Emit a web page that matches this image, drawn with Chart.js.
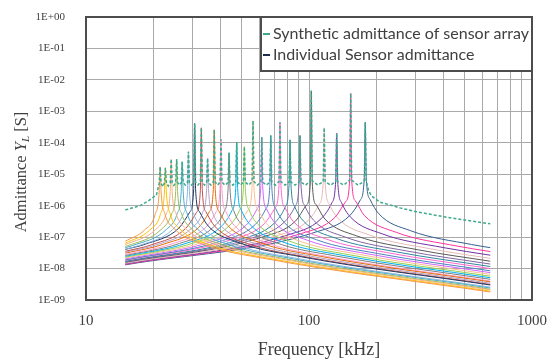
<!DOCTYPE html>
<html>
<head>
<meta charset="utf-8">
<script src="https://cdn.jsdelivr.net/npm/chart.js@4.4.1/dist/chart.umd.min.js"></script>
<style>
  html, body { margin: 0; padding: 0; background: #ffffff; }
  #wrap { width: 549px; height: 359px; position: relative; }
</style>
</head>
<body>
<div id="wrap"><canvas id="chart" width="549" height="359"></canvas></div>
<script>
// ---- Axis ticks ----
const freqTicksKHz = [10, 20, 30, 40, 50, 60, 70, 80, 90, 100, 200, 300, 400, 500, 600, 700, 800, 900, 1000];
const freqLabelsKHz = [10, 100, 1000];
const admittanceTicksS = [1e-9, 1e-8, 1e-7, 1e-6, 1e-5, 1e-4, 1e-3, 1e-2, 1e-1, 1];

// ---- Individual sensors ----
// Resonance frequency of each sensor [kHz]
const resonanceKHz = [21.5, 22.7, 24.1, 25.5, 27.0, 28.8, 30.7, 32.9, 35.1, 37.6, 40.3, 43.8, 47.4,
                      51.3, 56.1, 61.4, 67.4, 74.1, 82.2, 91.1, 102.4, 117.0, 133.1, 153.8, 178.8];
// Admittance at resonance [S]
const peakS = [1.7e-5, 1.6e-5, 3.0e-5, 3.0e-5, 2.5e-5, 5.2e-5, 4.1e-4, 3.0e-4, 3.2e-5, 2.6e-4, 1.3e-4, 4.8e-5, 1.05e-4,
               7.5e-5, 5.0e-4, 1.5e-4, 1.7e-4, 4.5e-4, 1.25e-4, 1.7e-4, 4.5e-3, 3.0e-4, 2.0e-4, 3.7e-3, 4.5e-4];
// Sweep limits [kHz]
const sweepStartKHz = 15;
const sweepEndKHz = 650;
// Admittance at the sweep limits [S]
const startS = [7.41e-8, 6.39e-8, 5.71e-8, 5.05e-8, 4.63e-8, 4.12e-8, 4.07e-8, 3.54e-8, 3.30e-8, 3.09e-8, 2.79e-8, 2.61e-8, 2.45e-8,
                2.30e-8, 2.15e-8, 2.02e-8, 1.89e-8, 1.83e-8, 1.71e-8, 1.65e-8, 1.58e-8, 1.47e-8, 1.42e-8, 1.36e-8, 1.31e-8];
const endS = [1.80e-9, 1.91e-9, 2.09e-9, 2.20e-9, 2.40e-9, 2.56e-9, 3.00e-9, 3.12e-9, 3.42e-9, 3.78e-9, 4.01e-9, 4.55e-9, 5.10e-9,
              5.71e-9, 6.51e-9, 7.41e-9, 8.48e-9, 9.98e-9, 1.16e-8, 1.39e-8, 1.71e-8, 2.10e-8, 2.66e-8, 3.47e-8, 4.61e-8];
// Frequency ratios f / f_r where each sensor curve is sampled
const detuning = [0.6, 0.85, 0.95, 0.99, 1.01, 1.05, 1.15, 1.6, 3];
// Admittance of each sensor at those ratios [S] (null: below the sweep)
const at060 = [null, null, null, 5.26e-8, 5.40e-8, 5.40e-8, 5.95e-8, 5.76e-8, 5.92e-8, 6.11e-8, 6.05e-8, 6.30e-8, 6.52e-8,
               6.73e-8, 7.01e-8, 7.29e-8, 7.58e-8, 8.11e-8, 8.48e-8, 9.11e-8, 9.92e-8, 1.06e-7, 1.16e-7, 1.30e-7, 1.45e-7];
const at085 = [1.67e-7, 1.67e-7, 1.72e-7, 1.72e-7, 1.76e-7, 1.76e-7, 1.94e-7, 1.88e-7, 1.94e-7, 2.00e-7, 1.98e-7, 2.06e-7, 2.13e-7,
               2.20e-7, 2.29e-7, 2.38e-7, 2.48e-7, 2.65e-7, 2.77e-7, 2.98e-7, 3.24e-7, 3.46e-7, 3.80e-7, 4.24e-7, 4.75e-7];
const at095 = [5.31e-7, 5.31e-7, 5.48e-7, 5.47e-7, 5.61e-7, 5.61e-7, 6.18e-7, 5.98e-7, 6.16e-7, 6.35e-7, 6.28e-7, 6.54e-7, 6.77e-7,
               7.00e-7, 7.29e-7, 7.58e-7, 7.88e-7, 8.42e-7, 8.81e-7, 9.47e-7, 1.03e-6, 1.10e-6, 1.21e-6, 1.35e-6, 1.51e-6];
const at099 = [2.71e-6, 2.71e-6, 2.80e-6, 2.79e-6, 2.87e-6, 2.87e-6, 3.16e-6, 3.06e-6, 3.14e-6, 3.24e-6, 3.21e-6, 3.34e-6, 3.46e-6,
               3.57e-6, 3.72e-6, 3.87e-6, 4.02e-6, 4.30e-6, 4.50e-6, 4.83e-6, 5.26e-6, 5.63e-6, 6.18e-6, 6.89e-6, 7.71e-6];
const at101 = [2.74e-6, 2.74e-6, 2.83e-6, 2.82e-6, 2.89e-6, 2.89e-6, 3.19e-6, 3.09e-6, 3.18e-6, 3.28e-6, 3.24e-6, 3.38e-6, 3.49e-6,
               3.61e-6, 3.76e-6, 3.91e-6, 4.06e-6, 4.34e-6, 4.54e-6, 4.88e-6, 5.32e-6, 5.68e-6, 6.24e-6, 6.96e-6, 7.79e-6];
const at105 = [5.58e-7, 5.58e-7, 5.76e-7, 5.75e-7, 5.90e-7, 5.90e-7, 6.50e-7, 6.29e-7, 6.47e-7, 6.67e-7, 6.60e-7, 6.88e-7, 7.12e-7,
               7.35e-7, 7.66e-7, 7.96e-7, 8.28e-7, 8.85e-7, 9.26e-7, 9.95e-7, 1.08e-6, 1.16e-6, 1.27e-6, 1.42e-6, 1.59e-6];
const at115 = [1.94e-7, 1.94e-7, 2.01e-7, 2.00e-7, 2.05e-7, 2.05e-7, 2.26e-7, 2.19e-7, 2.25e-7, 2.32e-7, 2.30e-7, 2.40e-7, 2.48e-7,
               2.56e-7, 2.67e-7, 2.77e-7, 2.88e-7, 3.08e-7, 3.22e-7, 3.47e-7, 3.77e-7, 4.03e-7, 4.43e-7, 4.94e-7, 5.53e-7];
const at160 = [5.59e-8, 5.59e-8, 5.77e-8, 5.76e-8, 5.91e-8, 5.91e-8, 6.51e-8, 6.30e-8, 6.48e-8, 6.69e-8, 6.62e-8, 6.89e-8, 7.13e-8,
               7.37e-8, 7.67e-8, 7.98e-8, 8.30e-8, 8.87e-8, 9.28e-8, 9.97e-8, 1.09e-7, 1.16e-7, 1.27e-7, 1.42e-7, 1.59e-7];
const at300 = [2.04e-8, 2.04e-8, 2.11e-8, 2.10e-8, 2.16e-8, 2.16e-8, 2.38e-8, 2.30e-8, 2.37e-8, 2.44e-8, 2.42e-8, 2.52e-8, 2.61e-8,
               2.69e-8, 2.81e-8, 2.92e-8, 3.03e-8, 3.24e-8, 3.39e-8, 3.64e-8, 3.97e-8, 4.24e-8, 4.66e-8, 5.19e-8, 5.81e-8];
const detunedS = [at060, at085, at095, at099, at101, at105, at115, at160, at300];

const sensorColors = ['#F79646', '#FFC000', '#F4B183', '#9BBB59', '#4BACC6', '#8EB4E3', '#1F3864', '#C0504D', '#B3A2C7',
                      '#E46C0A', '#FF99CC', '#7F7F7F', '#00B0F0', '#92D050', '#FABF8F', '#CC66FF', '#4F81BD', '#FF66CC',
                      '#31859C', '#8064A2', '#595959', '#E6B9B8', '#7030A0', '#FF3399', '#366092'];

// ---- Synthetic admittance of the array ----
const leadKHz = [15, 17.5, 19, 20.7];
const leadS = [7.3e-7, 1.0e-6, 1.4e-6, 2.2e-6];
// minima between neighbouring resonances
const valleyKHz = [22.09, 23.39, 24.79, 26.24, 27.89, 29.74, 31.78, 33.98, 36.33, 38.93, 42.01, 45.56,
                   49.31, 53.65, 58.69, 64.33, 70.67, 78.05, 86.54, 96.59, 109.5, 124.8, 143.1, 165.8];
const valleyS = [4.0e-6, 4.2e-6, 4.4e-6, 4.5e-6, 4.5e-6, 4.5e-6, 4.5e-6, 4.5e-6, 4.5e-6, 4.5e-6, 4.5e-6, 4.5e-6,
                 4.5e-6, 4.5e-6, 4.5e-6, 4.5e-6, 4.5e-6, 4.5e-6, 4.5e-6, 4.5e-6, 4.5e-6, 4.5e-6, 4.5e-6, 4.5e-6];
// level right beside each resonance (f / f_r = 0.99 and 1.01)
const shoulderS = [5.2e-6, 5.2e-6, 5.3e-6, 5.4e-6, 5.4e-6, 5.4e-6, 5.6e-6, 5.6e-6, 5.4e-6, 5.6e-6, 5.6e-6, 5.4e-6, 5.6e-6,
                   5.6e-6, 5.8e-6, 5.6e-6, 5.6e-6, 5.8e-6, 5.6e-6, 5.6e-6, 6.2e-6, 5.8e-6, 5.8e-6, 6.5e-6, 6.0e-6];
const tailKHz = [185, 191, 208, 256, 300, 361, 430, 510, 650];
const tailS = [3.0e-6, 2.0e-6, 1.3e-6, 8.5e-7, 6.5e-7, 5.1e-7, 4.1e-7, 3.4e-7, 2.65e-7];

// ---- Build datasets ----
function sensorPoints(i) {
  const fr = resonanceKHz[i];
  const pts = [{ x: sweepStartKHz, y: startS[i] }, { x: fr, y: peakS[i] }, { x: sweepEndKHz, y: endS[i] }];
  detuning.forEach((r, k) => {
    const v = detunedS[k][i];
    if (v !== null) pts.push({ x: fr * r, y: v });
  });
  return pts.filter(p => p.x >= sweepStartKHz && p.x <= sweepEndKHz).sort((a, b) => a.x - b.x);
}

function arrayPoints() {
  const pts = [];
  leadKHz.forEach((f, k) => pts.push({ x: f, y: leadS[k] }));
  resonanceKHz.forEach((fr, i) => {
    pts.push({ x: fr * 0.99, y: shoulderS[i] });
    pts.push({ x: fr, y: peakS[i] });
    pts.push({ x: fr * 1.01, y: shoulderS[i] });
    if (i < valleyKHz.length) pts.push({ x: valleyKHz[i], y: valleyS[i] });
  });
  tailKHz.forEach((f, k) => pts.push({ x: f, y: tailS[k] }));
  return pts;
}

const datasets = [{
  label: 'Synthetic admittance of sensor array',
  data: arrayPoints(),
  borderColor: '#3FA98E',
  borderWidth: 1.5,
  borderDash: [3, 2],
  tension: 0,
  pointRadius: 0
}];
resonanceKHz.forEach((fr, i) => {
  datasets.push({
    label: 'Individual Sensor admittance',
    data: sensorPoints(i),
    borderColor: sensorColors[i],
    borderWidth: 1,
    cubicInterpolationMode: 'monotone',
    pointRadius: 0
  });
});

function expLabel(v) {
  const e = Math.round(Math.log10(v));
  return '1E' + (e < 0 ? '-' : '+') + String(Math.abs(e)).padStart(2, '0');
}

// Frame, legend box and axis titles
const decorations = {
  id: 'decorations',
  afterDraw(chart) {
    const { ctx, chartArea: a } = chart;
    ctx.save();
    // plot frame
    ctx.strokeStyle = '#4d4d4d';
    ctx.lineWidth = 2;
    ctx.strokeRect(a.left, a.top, a.right - a.left, a.bottom - a.top);

    // legend box
    const lx = 261, ly = a.top, lw = a.right - 261, lh = 54;
    ctx.fillStyle = '#ffffff';
    ctx.fillRect(lx, ly, lw, lh);
    ctx.strokeStyle = '#4d4d4d';
    ctx.lineWidth = 2;
    ctx.strokeRect(lx, ly, lw, lh);
    const items = [
      { text: datasets[0].label, color: '#3FA98E', y: ly + 17 },
      { text: 'Individual Sensor admittance', color: '#1F2D4D', y: ly + 38 }
    ];
    ctx.font = '13px Lato';
    const w13 = ctx.measureText(items[0].text).width;
    const fs = 13 * 256 / w13;
    ctx.font = fs.toFixed(2) + 'px Lato';
    ctx.textBaseline = 'middle';
    ctx.textAlign = 'left';
    items.forEach(it => {
      ctx.strokeStyle = it.color;
      ctx.lineWidth = 2;
      ctx.beginPath();
      ctx.moveTo(lx + 2, it.y);
      ctx.lineTo(lx + 9, it.y);
      ctx.stroke();
      ctx.fillStyle = '#404040';
      ctx.fillText(it.text, lx + 12, it.y);
    });

    // x title
    ctx.fillStyle = '#404040';
    ctx.font = '18px "Liberation Serif"';
    ctx.textAlign = 'center';
    ctx.textBaseline = 'middle';
    ctx.fillText('Frequency [kHz]', 319, 350);

    // y title with italic Y and subscript L
    const parts = [
      { t: 'Admittance ', f: '16.5px "Liberation Serif"', dy: 0 },
      { t: 'Y', f: 'italic 16.5px "Liberation Serif"', dy: 0 },
      { t: 'L', f: 'italic 11px "Liberation Serif"', dy: 4 },
      { t: ' [S]', f: '16.5px "Liberation Serif"', dy: 0 }
    ];
    let total = 0;
    parts.forEach(p => { ctx.font = p.f; p.w = ctx.measureText(p.t).width; total += p.w; });
    ctx.translate(22, 172);
    ctx.rotate(-Math.PI / 2);
    ctx.textAlign = 'left';
    let x = -total / 2;
    parts.forEach(p => { ctx.font = p.f; ctx.fillText(p.t, x, p.dy); x += p.w; });
    ctx.restore();
  }
};

new Chart(document.getElementById('chart'), {
  type: 'line',
  data: { datasets },
  options: {
    responsive: false,
    animation: false,
    devicePixelRatio: 1,
    layout: { padding: { top: 17, right: 17, left: 0, bottom: 0 } },
    plugins: { legend: { display: false }, tooltip: { enabled: false } },
    elements: { point: { radius: 0 } },
    scales: {
      x: {
        type: 'logarithmic',
        min: 10,
        max: 1000,
        afterBuildTicks: s => { s.ticks = freqTicksKHz.map(v => ({ value: v })); },
        afterFit: s => { s.height = 59; s.paddingLeft = 0; s.paddingRight = 0; },
        grid: { color: '#a9a9a9', lineWidth: 1, drawTicks: false },
        border: { display: false },
        ticks: {
          autoSkip: false, maxRotation: 0, padding: 12, color: '#404040',
          font: { family: 'Liberation Serif', size: 15 },
          callback: v => freqLabelsKHz.includes(v) ? String(v) : ''
        }
      },
      y: {
        type: 'logarithmic',
        min: 1e-9,
        max: 1,
        afterBuildTicks: s => { s.ticks = admittanceTicksS.map(v => ({ value: v })); },
        afterFit: s => { s.width = 86; s.paddingTop = 0; s.paddingBottom = 0; },
        grid: { color: '#a9a9a9', lineWidth: 1, drawTicks: false },
        border: { display: false },
        ticks: {
          autoSkip: false, padding: 21, color: '#404040',
          font: { family: 'Liberation Serif', size: 11 },
          callback: v => expLabel(v)
        }
      }
    }
  },
  plugins: [decorations]
});
</script>
</body>
</html>
